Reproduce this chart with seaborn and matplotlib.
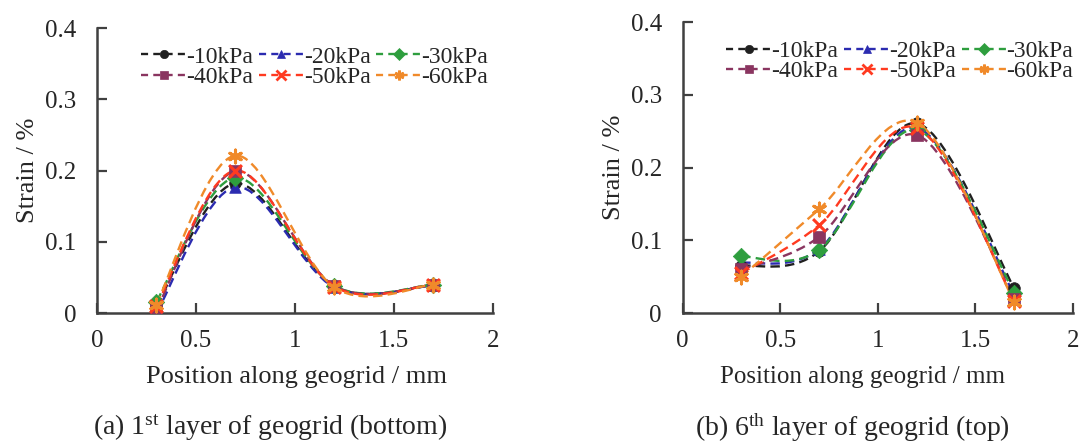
import numpy as np
import matplotlib
matplotlib.use("Agg")
import matplotlib.pyplot as plt
import seaborn as sns
from matplotlib.path import Path
from matplotlib.patches import PathPatch
from matplotlib.lines import Line2D

# data
position = [0.3, 0.7, 1.2, 1.7]
loads = ["10kPa", "20kPa", "30kPa", "40kPa", "50kPa", "60kPa"]

bottom_10 = [0.010, 0.182, 0.037, 0.039]
bottom_20 = [0.000, 0.177, 0.036, 0.039]
bottom_30 = [0.016, 0.190, 0.038, 0.040]
bottom_40 = [0.004, 0.199, 0.038, 0.040]
bottom_50 = [0.010, 0.200, 0.037, 0.040]
bottom_60 = [0.012, 0.221, 0.036, 0.040]

top_10 = [0.065, 0.085, 0.261, 0.034]
top_20 = [0.069, 0.088, 0.255, 0.025]
top_30 = [0.078, 0.087, 0.252, 0.028]
top_40 = [0.060, 0.105, 0.245, 0.020]
top_50 = [0.055, 0.121, 0.255, 0.016]
top_60 = [0.050, 0.143, 0.262, 0.015]

colors = ["#202020", "#2b2bb0", "#2e9e3e", "#8a3560", "#ff3a20", "#f08a2a"]
markers = ["o", "^", "D", "s", "x", (6, 2, 0)]

sns.set_style("ticks")
plt.rcParams["font.family"] = ["Liberation Serif", "DejaVu Serif"]
plt.rcParams["mathtext.fontset"] = "custom"
plt.rcParams["mathtext.rm"] = "Liberation Serif"
plt.rcParams["mathtext.it"] = "Liberation Serif:italic"


def smooth_path(x, y):
    # Excel-like smoothed line: cubic bezier with catmull-rom control points
    pts = np.column_stack([x, y])
    ext = np.vstack([pts[0], pts, pts[-1]])
    verts = [pts[0]]
    codes = [Path.MOVETO]
    for i in range(len(pts) - 1):
        p0, p1, p2, p3 = ext[i], ext[i + 1], ext[i + 2], ext[i + 3]
        c1 = p1 + (p2 - p0) / 6
        c2 = p2 - (p3 - p1) / 6
        verts += [c1, c2, p2]
        codes += [Path.CURVE4] * 3
    return Path(verts, codes)


def draw_panel(ax, series):
    for vals, col, mk in zip(series, colors, markers):
        patch = PathPatch(smooth_path(position, vals), fill=False, edgecolor=col,
                          lw=1.7, linestyle=(0, (4, 2.2)))
        ax.add_patch(patch)
        if mk in ("x", (6, 2, 0)):
            sns.scatterplot(x=position, y=vals, ax=ax, marker=mk, color=col,
                            s=85, linewidth=2.2, zorder=3)
        else:
            sns.scatterplot(x=position, y=vals, ax=ax, marker=mk, color=col,
                            s=70, edgecolor=col, linewidth=0.5, zorder=3)
    ax.set_xlim(0, 2)
    ax.set_ylim(0, 0.4)
    ax.set_xticks([0, 0.5, 1, 1.5, 2])
    ax.set_xticklabels(["0", "0.5", "1", "1.5", "2"])
    ax.set_yticks([0, 0.1, 0.2, 0.3, 0.4])
    ax.set_yticklabels(["0", "0.1", "0.2", "0.3", "0.4"])
    ax.tick_params(direction="in", length=7, width=1.6, color="#404040",
                   labelsize=18, pad=15)
    ax.tick_params(axis="x", pad=12)
    sns.despine(ax=ax)
    for sp in ("left", "bottom"):
        ax.spines[sp].set_linewidth(1.8)
        ax.spines[sp].set_color("#404040")
    ax.set_ylabel("Strain / %", fontsize=19, labelpad=4)
    ax.set_xlabel("")

    handles = [Line2D([], [], color=c, lw=1.7, linestyle=(0, (3, 2.2)), marker=m,
                      markersize=7 if m in ("x", (6, 2, 0)) else 6,
                      markeredgewidth=2 if m in ("x", (6, 2, 0)) else 0.5)
               for c, m in zip(colors, markers)]
    order = [0, 3, 1, 4, 2, 5]
    ax.legend([handles[i] for i in order], ["-" + loads[i] for i in order],
              ncol=3, loc="upper left", bbox_to_anchor=(0.07, 0.995),
              frameon=False, fontsize=17, handlelength=1.9, handletextpad=0.0,
              columnspacing=0.25, labelspacing=-0.05, borderpad=0.2)


fig = plt.figure(figsize=(10.87, 4.46), dpi=100)
ax1 = fig.add_axes([0.0892, 0.298, 0.364, 0.639])
ax2 = fig.add_axes([0.628, 0.298, 0.359, 0.652])

draw_panel(ax1, [bottom_10, bottom_20, bottom_30, bottom_40, bottom_50, bottom_60])
draw_panel(ax2, [top_10, top_20, top_30, top_40, top_50, top_60])

fig.text(296 / 1087, 1 - 377 / 446, "Position along geogrid / mm", ha="center",
         va="center", fontsize=19)
fig.text(862 / 1087, 1 - 377 / 446, "Position along geogrid / mm", ha="center",
         va="center", fontsize=18)
fig.text(270 / 1087, 1 - 428 / 446, r"(a) 1$^{\mathrm{st}}$ layer of geogrid (bottom)",
         ha="center", va="center", fontsize=20)
fig.text(852 / 1087, 1 - 428 / 446, r"(b) 6$^{\mathrm{th}}$ layer of geogrid (top)",
         ha="center", va="center", fontsize=20)

fig.savefig("out.png", dpi=100, facecolor="white")
